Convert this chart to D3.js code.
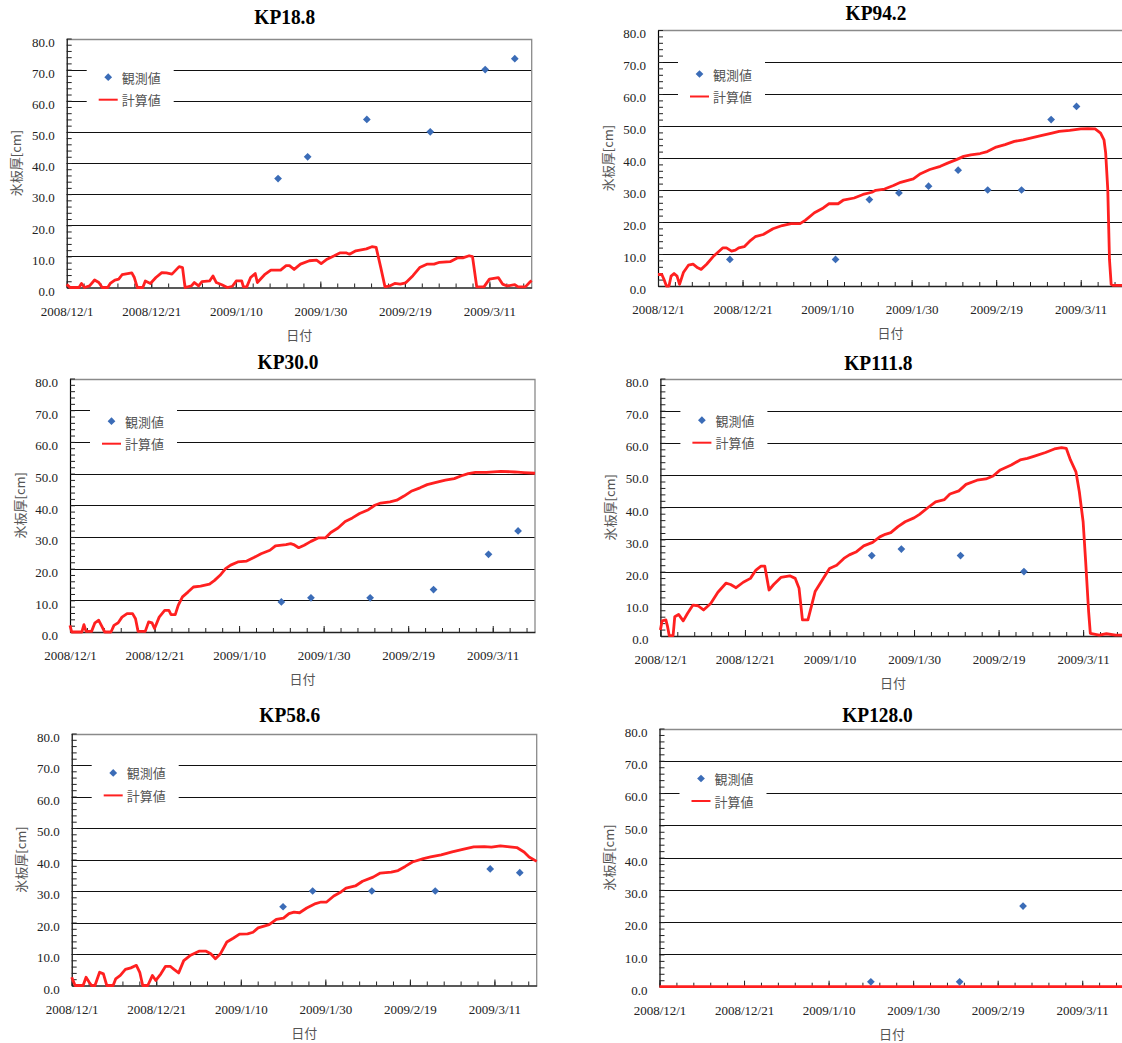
<!DOCTYPE html>
<html>
<head>
<meta charset="utf-8">
<script src="https://cdn.jsdelivr.net/npm/d3@7"></script>
<style>
    body { margin: 0; background: #fff; }
    svg { display: block; }
</style>
</head>
<body>
<div id="chart"></div>
<script>
// ---- data ----
const startDate = new Date(2008, 11, 1);
const endDay = 110;
const xTickLabels = ["2008/12/1", "2008/12/21", "2009/1/10", "2009/1/30", "2009/2/19", "2009/3/11"];
const yTickValues = [0, 10, 20, 30, 40, 50, 60, 70, 80];
const legendLabels = ["観測値", "計算値"];
const yTitle = "氷板厚[cm]";
const xTitle = "日付";

const titles = ["KP18.8", "KP94.2", "KP30.0", "KP111.8", "KP58.6", "KP128.0"];

// observed values: dates + thickness
const obsDatesA = ["2009/1/20", "2009/1/27", "2009/2/10", "2009/2/25", "2009/3/10", "2009/3/17"];
const obsKP188 = [35, 42, 54, 50, 70, 73.5];
const obsKP300 = [9.5, 10.8, 10.8, 13.4, 24.5, 31.9];
const obsKP586 = [25, 30, 30, 30, 37, 35.8];
const obsDatesKP942 = ["2008/12/18", "2009/1/12", "2009/1/20", "2009/1/27", "2009/2/3", "2009/2/10", "2009/2/17", "2009/2/25", "2009/3/4", "2009/3/10"];
const obsKP942 = [8.3, 8.3, 27, 29.1, 31.2, 36.2, 30, 30, 52, 56.1];
const obsDatesKP1118 = ["2009/1/20", "2009/1/27", "2009/2/10", "2009/2/25"];
const obsKP1118 = [25, 27, 25, 20];
const obsDatesKP1280 = ["2009/1/20", "2009/2/10", "2009/2/25"];
const obsKP1280 = [1.5, 1.5, 25];

// calculated values: [days since 2008/12/1, thickness]
const calcKP188 = [[0,1],[0.8,0],[2.9,0],[3.5,1.3],[4.2,0],[5.4,0.5],[6.6,2.4],[7.6,1.6],[8.4,0],[9.7,0],[10.3,1.3],[11.4,2.4],[12.3,2.7],[13.1,4.1],[15.4,4.7],[16,3.2],[16.7,0],[18,0],[18.6,2.1],[19.8,1.3],[21.1,3.2],[22.5,4.8],[23.6,4.7],[24.9,4.3],[26.6,6.7],[27.4,6.4],[28,0],[29.5,0.5],[30.2,1.6],[31.2,0.5],[32,1.9],[33.8,2.1],[34.6,3.7],[35.4,1.6],[36.7,0.9],[38,0],[39.2,0.4],[40.1,2.1],[41.4,2.1],[41.8,0.2],[42.6,0.2],[43.5,3.2],[44.6,4.5],[45.1,1.6],[46.8,4.1],[48.3,5.6],[50.6,5.6],[51.9,7],[52.7,7],[53.8,5.8],[55.3,7.5],[57.4,8.6],[59.1,8.8],[60.2,7.7],[61.6,9.1],[63.3,10.2],[64.6,11.1],[66.2,11.1],[66.9,10.7],[68.4,11.8],[70.9,12.4],[72.2,13.1],[73.2,12.9],[74.3,6.4],[75.3,0.2],[76.4,0.5],[77.6,1.3],[78.9,1.1],[80.2,1.5],[81.9,3.8],[83.5,6.4],[85.2,7.5],[86.9,7.5],[88.2,8.1],[90.7,8.3],[92.4,9.5],[93.7,9.5],[95.2,10.2],[96,9.9],[97,0.2],[98.7,0.2],[100,2.7],[102.1,3.2],[103.1,1.1],[104.2,0.5],[106,0.9],[106.8,0.2],[108.5,0.2],[109.7,1.9],[110,2.2]];
const calcKP942 = [[0,3.6],[0.9,3.6],[1.4,2.1],[2,0],[2.6,0],[3.1,3.1],[3.8,3.9],[4.5,3.1],[5.1,0.5],[6,4.2],[7.2,6.5],[8.3,6.8],[9.4,5.7],[10.2,5.2],[11.5,6.8],[13.2,9.4],[15.3,11.9],[16.2,11.9],[17.4,10.9],[18.3,11.2],[19.1,11.9],[20.4,12.3],[21.7,14],[23,15.4],[24.9,16.1],[27.2,17.9],[29.4,18.9],[31.5,19.5],[33.6,19.5],[34.9,20.6],[37,22.9],[39.1,24.4],[40.4,25.7],[42.6,25.7],[43.8,26.8],[46.4,27.5],[48.5,28.6],[50.6,29.3],[51.5,29.9],[53.6,30.3],[55.7,31.4],[57.4,32.4],[60.4,33.5],[62.1,35.1],[64.3,36.4],[66.8,37.4],[68.5,38.4],[70.6,39.5],[72.3,40.5],[74,41],[76.2,41.4],[77.9,42],[80,43.4],[82.1,44.2],[84.3,45.2],[86.4,45.7],[88.1,46.2],[90.6,47],[93.2,47.8],[94.9,48.3],[97.4,48.6],[100,49.1],[101.7,49.2],[103.4,49.1],[104.7,47.8],[105.5,45.7],[105.9,41.6],[106.4,30.1],[106.8,8.3],[107.2,0.5],[107.6,0.2],[110,0.2]];
const calcKP300 = [[0,2.1],[0.4,0],[2.8,0],[3.3,2.3],[3.8,0.2],[5.1,0.2],[5.9,2.9],[6.8,3.7],[7.6,1.6],[8.2,0],[9.7,0],[10.4,2.1],[11.4,2.9],[12.3,4.7],[13.5,5.8],[14.8,5.8],[15.5,4.2],[16.1,0.2],[17.8,0.2],[18.6,3.2],[19.4,2.9],[20,1.1],[21.1,4.7],[22.4,6.8],[23.4,6.8],[23.9,5.5],[24.9,5.5],[25.6,8.4],[26.6,11.1],[27.9,12.6],[29.2,14.2],[30.9,14.5],[33,15.1],[34.2,16.3],[35.5,17.9],[36.8,20],[38,21.1],[39.7,22.1],[41.8,22.4],[43.5,23.5],[45.2,24.7],[47.3,25.8],[48.6,27.2],[51.1,27.6],[52.2,27.9],[52.9,27.6],[54.1,26.6],[55.4,27.4],[57,28.6],[58.7,29.7],[60.4,29.7],[61.7,31.4],[63.4,32.8],[65.1,34.9],[66.8,36],[68.5,37.4],[70.6,38.6],[72.1,40],[73.5,40.7],[75.7,41.1],[77.3,41.6],[79,42.9],[80.7,44.4],[82.8,45.5],[84.5,46.5],[86.6,47.2],[88.8,47.9],[90.9,48.4],[92.6,49.3],[94.2,50],[95.9,50.4],[98.5,50.4],[101.9,50.7],[105.2,50.5],[107.4,50.3],[110,50.1]];
const calcKP1118 = [[0,1.9],[0.4,4.7],[1.3,5],[1.7,2.9],[2.1,0.1],[3,0.1],[3.4,6],[4.3,6.7],[5.4,4.7],[6.4,7],[7.7,9.6],[8.9,9.4],[10.2,8.1],[11.9,10.1],[13.6,13.6],[15.5,16.4],[16.6,16],[17.9,15],[19.6,16.7],[21.3,17.9],[22.6,20.5],[23.8,21.7],[24.7,21.7],[25.7,14.3],[26.8,16],[28.5,18.2],[30.6,18.7],[31.9,17.9],[32.8,14.8],[33.6,5],[34.9,5],[35.7,9.1],[36.6,13.8],[38.3,17.4],[40,21],[41.7,22],[43.4,24.1],[44.7,25.2],[46.4,26.2],[48.1,28],[50.2,29.1],[51.9,30.8],[53.2,31.6],[54.5,32.1],[56.2,34],[57.9,35.5],[60,36.7],[61.3,37.8],[63.4,40],[65.1,41.7],[67.2,42.4],[68.5,44.1],[70.6,45.1],[72.3,47.1],[74.9,48.4],[77,48.8],[78.7,49.7],[80.4,51.6],[83,53.1],[85.1,54.7],[86.8,55.2],[88.5,55.9],[91.1,57],[93.2,58.1],[94.9,58.5],[96,58.3],[97,54.7],[98.3,51],[99.1,44.8],[100,35.5],[100.6,23.1],[101.3,7.6],[101.7,0.8],[103.8,0.3],[105.5,0.7],[107.7,0.3],[110,0.3]];
const calcKP586 = [[0,2.6],[0.4,1.3],[0.8,0],[2.7,0],[3.4,2.6],[4.1,1.1],[4.7,0],[5.5,0],[6.6,4.2],[7.5,3.7],[8.3,0],[9.8,0],[10.4,2.1],[11.5,3.2],[12.7,5.1],[14,5.6],[15.3,6.4],[16.1,4.2],[16.8,0],[18,0],[19.1,3.2],[19.9,1.6],[21.1,3.7],[22.2,6.1],[23.3,6.1],[24.2,5.1],[25.3,4],[26.5,7.9],[28,9.5],[30.1,10.9],[31.8,10.9],[32.9,10.1],[34,8.5],[35.2,10.1],[36.7,13.8],[38.2,15],[39.7,16.3],[41.6,16.4],[42.9,16.9],[44.1,18.3],[46.7,19.3],[48.4,21],[50.1,21.4],[51.4,22.8],[52.6,23.3],[53.9,23.1],[55.6,24.6],[57.7,26],[59,26.5],[60.3,26.5],[62,28.4],[63.7,29.7],[64.9,30.9],[67.1,31.6],[68.8,33.1],[71.3,34.4],[73,35.7],[75.6,36],[77.2,36.5],[78.9,37.8],[80.6,39.2],[83.2,40.3],[84.9,40.8],[87.4,41.5],[90,42.4],[92.5,43.2],[95.1,44],[97.6,44.1],[99.3,43.9],[101.4,44.3],[103.6,44],[105.3,43.8],[107,42.4],[108.2,40.8],[110,39.4]];
const calcKP1280 = [[0,0],[110,0]];

// ---- layout of the six panels ----
const panels = [
    {title: titles[0], obsDates: obsDatesA, obs: obsKP188, calc: calcKP188, left: 66.7, right: 531.7, top: 38.5, bottom: 287.5, titleY: 24, legendDy: 38.7},
    {title: titles[1], obsDates: obsDatesKP942, obs: obsKP942, calc: calcKP942, left: 658, right: 1123, top: 30, bottom: 286, titleY: 20, legendDy: 44},
    {title: titles[2], obsDates: obsDatesA, obs: obsKP300, calc: calcKP300, left: 70, right: 535, top: 378.5, bottom: 632, titleY: 369, legendDy: 42.7},
    {title: titles[3], obsDates: obsDatesKP1118, obs: obsKP1118, calc: calcKP1118, left: 660.4, right: 1125.4, top: 378.5, bottom: 636, titleY: 370, legendDy: 41.7},
    {title: titles[4], obsDates: obsDatesA, obs: obsKP586, calc: calcKP586, left: 71.7, right: 536.7, top: 733.5, bottom: 985.5, titleY: 722, legendDy: 39.4},
    {title: titles[5], obsDates: obsDatesKP1280, obs: obsKP1280, calc: calcKP1280, left: 659.5, right: 1124.5, top: 728.5, bottom: 986.7, titleY: 722, legendDy: 50}
];

const RED = "#ff2020";
const BLUE = "#3b6cb7";
const SERIF = "'Liberation Serif', 'DejaVu Serif', serif";
const JP = "'Noto Sans CJK JP', sans-serif";
const parseDate = d3.timeParse("%Y/%m/%d");
const dayToDate = (d) => new Date(startDate.getTime() + d * 864e5);

const svg = d3.select("#chart").append("svg")
    .attr("width", 1122)
    .attr("height", 1043);

panels.forEach(p => drawPanel(p));

function styleLabels(a) {
    a.attr("font-family", SERIF).attr("font-size", 13);
    a.selectAll("text").attr("fill", "#222");
}

function drawPanel(p) {
    const g = svg.append("g");
    const x = d3.scaleTime().domain([startDate, dayToDate(endDay)]).range([p.left, p.right]);
    const y = d3.scaleLinear().domain([0, 80]).range([p.bottom, p.top]);

    // grid lines
    g.selectAll(".grid")
        .data(yTickValues.filter(v => v > 0 && v < 80))
        .join("line")
        .attr("x1", p.left).attr("x2", p.right)
        .attr("y1", d => Math.round(y(d)) + 0.5).attr("y2", d => Math.round(y(d)) + 0.5)
        .attr("stroke", "#111").attr("stroke-width", 1);

    // frame (top + right, grey)
    g.append("path")
        .attr("d", `M${p.left},${Math.round(p.top) + 0.5}H${p.right}V${p.bottom}`)
        .attr("fill", "none").attr("stroke", "#8a8a8a").attr("stroke-width", 1.3);

    // legend background hides grid lines
    g.append("rect")
        .attr("x", p.left + 20).attr("y", p.top + p.legendDy - 14)
        .attr("width", 87).attr("height", 52)
        .attr("fill", "#fff");

    // y axis: minor ticks every 2, labels every 10
    const yMinor = d3.range(0, 81, 2);
    g.append("g")
        .attr("transform", `translate(${p.left},0)`)
        .call(d3.axisLeft(y).tickValues(yMinor).tickSize(-5).tickSizeOuter(0).tickFormat(""))
        .call(a => a.select(".domain").attr("stroke", "#000").attr("stroke-width", 1.2))
        .call(a => a.selectAll(".tick line").attr("stroke", "#222"));
    g.append("g")
        .attr("transform", `translate(${p.left},0)`)
        .call(d3.axisLeft(y).tickValues(yTickValues).tickSize(0).tickPadding(12).tickFormat(d3.format(".1f")))
        .call(a => a.select(".domain").remove())
        .call(styleLabels)
        .call(a => a.selectAll("text").attr("dy", "0.6em"));

    // x axis: minor ticks every 4 days, labelled every 20
    const xMinor = d3.range(0, endDay + 1, 4).map(dayToDate);
    const xMajor = xTickLabels.map(s => parseDate(s));
    g.append("g")
        .attr("transform", `translate(0,${p.bottom})`)
        .call(d3.axisBottom(x).tickValues(xMinor).tickSize(-4).tickSizeOuter(0).tickFormat(""))
        .call(a => a.select(".domain").attr("stroke", "#222").attr("stroke-width", 1.3))
        .call(a => a.selectAll(".tick line").attr("stroke", "#222"));
    g.append("g")
        .attr("transform", `translate(0,${p.bottom})`)
        .call(d3.axisBottom(x).tickValues(xMajor).tickSize(-6).tickPadding(19).tickFormat((d, i) => xTickLabels[i]))
        .call(a => a.select(".domain").remove())
        .call(a => a.selectAll(".tick line").attr("stroke", "#222"))
        .call(styleLabels);

    // calculated line
    const line = d3.line()
        .x(d => x(dayToDate(d[0])))
        .y(d => y(d[1]));
    g.append("path")
        .datum(p.calc)
        .attr("d", line)
        .attr("fill", "none")
        .attr("stroke", RED)
        .attr("stroke-width", 2.8)
        .attr("stroke-linejoin", "round");

    // observed diamonds
    const diamond = d3.symbol(d3.symbolSquare, 30);
    g.selectAll(".obs")
        .data(p.obs.map((v, i) => ({date: parseDate(p.obsDates[i]), value: v})))
        .join("path")
        .attr("d", diamond)
        .attr("transform", d => `translate(${x(d.date)},${y(d.value)}) rotate(45)`)
        .attr("fill", BLUE);

    // legend
    const ly = p.top + p.legendDy;
    g.append("path")
        .attr("d", diamond)
        .attr("transform", `translate(${p.left + 41.5},${ly}) rotate(45)`)
        .attr("fill", BLUE);
    g.append("line")
        .attr("x1", p.left + 32).attr("x2", p.left + 51)
        .attr("y1", ly + 22.5).attr("y2", ly + 22.5)
        .attr("stroke", RED).attr("stroke-width", 2);
    g.selectAll(".legText")
        .data(legendLabels)
        .join("text")
        .attr("font-family", JP).attr("font-size", 13).attr("fill", "#555")
        .attr("x", p.left + 55)
        .attr("y", (d, i) => ly + i * 22.5)
        .attr("dominant-baseline", "central")
        .text(d => d);

    // axis titles
    g.append("text")
        .attr("font-family", JP).attr("font-size", 13).attr("fill", "#555")
        .attr("text-anchor", "middle")
        .attr("dominant-baseline", "central")
        .attr("transform", `translate(${p.left - 51},${(p.top + p.bottom) / 2}) rotate(-90)`)
        .text(yTitle);
    g.append("text")
        .attr("font-family", JP).attr("font-size", 13).attr("fill", "#555")
        .attr("text-anchor", "middle")
        .attr("dominant-baseline", "central")
        .attr("x", (p.left + p.right) / 2)
        .attr("y", p.bottom + 46.5)
        .text(xTitle);

    // title
    g.append("text")
        .attr("font-family", SERIF).attr("font-weight", "bold").attr("font-size", 22).attr("fill", "#000")
        .attr("text-anchor", "middle")
        .attr("transform", `translate(${p.left + 218},${p.titleY}) scale(0.88,1)`)
        .text(p.title);
}
</script>
</body>
</html>
